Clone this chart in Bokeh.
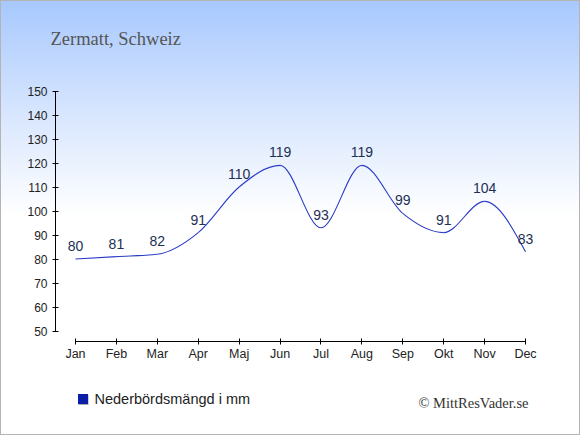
import numpy as np
from bokeh.plotting import figure
from bokeh.models import Range1d, FixedTicker, Label, Legend, LegendItem, Title
from bokeh.core.properties import value
from bokeh.embed import file_html
from bokeh.resources import INLINE

# ---- data ----
months = ["Jan", "Feb", "Mar", "Apr", "Maj", "Jun", "Jul", "Aug", "Sep", "Okt", "Nov", "Dec"]
precip = [80, 81, 82, 91, 110, 119, 93, 119, 99, 91, 104, 83]
y_ticks = [50, 60, 70, 80, 90, 100, 110, 120, 130, 140, 150]
title_text = "Zermatt, Schweiz"
legend_text = "Nederbördsmängd i mm"
credit_text = "© MittResVader.se"

# ---- layout (pixels) ----
W, H = 580, 435
FL, FB, FT = 55, 24, 60      # frame borders: left (y axis), bottom, top (title panel)
JAN_PX, STEP_PX = 75, 40.91  # x pixel of first month, pixels per month
TOP_PX, UNIT_PX = 90.5, 2.4  # y pixel of value 150, pixels per mm


def dx(px):
    return (px - JAN_PX) / STEP_PX


def dy(py):
    return y_ticks[-1] - (py - TOP_PX) / UNIT_PX


p = figure(width=W, height=H, output_backend="svg", toolbar_location=None,
           x_range=Range1d(dx(FL), dx(W)), y_range=Range1d(dy(H - FB), dy(FT)),
           min_border_left=FL, min_border_right=0, min_border_top=FT, min_border_bottom=FB)
p.border_fill_color = None
p.background_fill_color = None
p.outline_line_color = None
p.grid.visible = False
p.styles = {"background": "linear-gradient(180deg, #a7c8fe 0px, #d6e5fe 110px, #ffffff 215px, #ffffff 100%)",
            "outline": "1px solid #b4b4b4", "outline-offset": "-1px"}

# title in the top panel
p.add_layout(Title(text=title_text, align="left", offset=50 - FL, standoff=24,
                   text_font="Liberation Serif", text_font_size="18.5px",
                   text_font_style="normal", text_color="#555555"), "above")

xs = np.arange(len(months), dtype=float)
ys = np.array(precip, dtype=float)

# monotone cubic (d3 monotoneX style) bezier segments through the data points
n = len(xs)
h = np.diff(xs)
s = np.diff(ys) / h
t = np.zeros(n)
for i in range(1, n - 1):
    s0, s1 = s[i - 1], s[i]
    pp = (s0 * h[i] + s1 * h[i - 1]) / (h[i - 1] + h[i])
    t[i] = (np.sign(s0) + np.sign(s1)) * min(abs(s0), abs(s1), 0.5 * abs(pp))
t[0] = (3 * s[0] - t[1]) / 2
t[-1] = (3 * s[-1] - t[-2]) / 2
d = h / 3
p.bezier(x0=xs[:-1], y0=ys[:-1], x1=xs[1:], y1=ys[1:],
         cx0=xs[:-1] + d, cy0=ys[:-1] + d * t[:-1],
         cx1=xs[1:] - d, cy1=ys[1:] - d * t[1:],
         line_color="#2a3cc6", line_width=1.1)

p.text(x=xs, y=ys, text=[str(v) for v in precip], text_align="center",
       text_baseline="middle", y_offset=-13, text_font=value("Liberation Sans"),
       text_font_size="14px", text_color="#1c3154")

# axes
for ax in (p.xaxis[0], p.yaxis[0]):
    ax.axis_line_color = "#000000"
    ax.major_tick_line_color = "#000000"
    ax.major_tick_in = 3
    ax.major_tick_out = 3
    ax.minor_tick_line_color = None
    ax.major_label_text_font = "Liberation Sans"
    ax.major_label_text_color = "#222222"

p.xaxis.ticker = FixedTicker(ticks=list(range(len(months))))
p.xaxis.major_label_overrides = {i: m for i, m in enumerate(months)}
p.xaxis.bounds = (0, len(months) - 1)
p.xaxis.fixed_location = dy(341)
p.xaxis.major_label_standoff = 2
p.xaxis.major_label_text_font_size = "12.5px"
p.yaxis.ticker = FixedTicker(ticks=y_ticks)
p.yaxis.bounds = (y_ticks[0], y_ticks[-1])
p.yaxis.major_label_standoff = 5
p.yaxis.major_label_text_font_size = "12px"

# legend (square marker) with a small shadow
p.scatter(x=[dx(83)], y=[dy(399.5)], marker="square", size=10, fill_color="#a8a8a8",
          line_color=None)
sq = p.scatter(x=[np.nan], y=[np.nan], marker="square", size=10, fill_color="#0a1ea8",
               line_color=None)
legend = Legend(items=[LegendItem(label=legend_text, renderers=[sq])],
                location=(69.5 - FL, (H - FB) - 411), orientation="horizontal",
                glyph_width=25, glyph_height=25, label_standoff=-1, padding=0, margin=0,
                label_height=20, border_line_color=None, background_fill_color=None,
                background_fill_alpha=0, label_text_font="Liberation Sans",
                label_text_font_size="14.5px", label_text_color="#222222")
p.add_layout(legend)

# credit
p.add_layout(Label(x=dx(528), y=dy(402), text=credit_text, text_font="Liberation Serif",
                   text_font_size="14.5px", text_color="#333333", text_baseline="alphabetic",
                   text_align="right"))

open("out.html", "w").write(file_html(p, INLINE))
